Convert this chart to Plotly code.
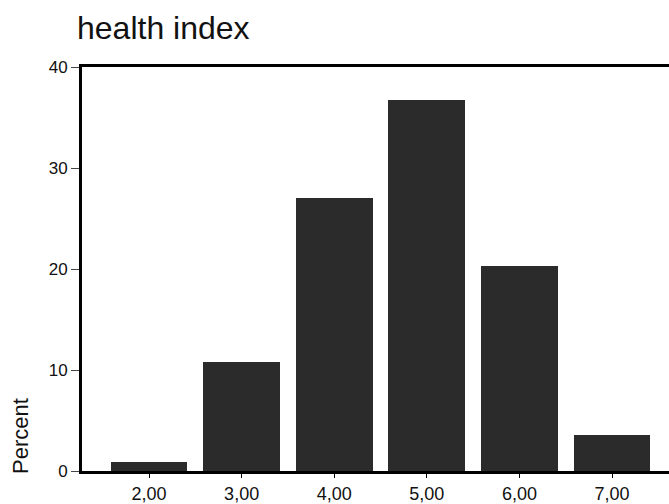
import plotly.graph_objects as go

categories = [2, 3, 4, 5, 6, 7]
tick_labels = ["2,00", "3,00", "4,00", "5,00", "6,00", "7,00"]
percent = [0.9, 10.8, 27.0, 36.7, 20.3, 3.6]

W, H = 669, 504

fig = go.Figure()
fig.add_trace(go.Bar(
    x=categories, y=percent, width=0.83,
    marker=dict(color="#2b2b2b", line=dict(width=0)),
))

fig.update_layout(
    width=W, height=H,
    margin=dict(l=82, r=0, t=67, b=30),
    paper_bgcolor="white", plot_bgcolor="white",
    font=dict(family="Liberation Sans, Arial, sans-serif", color="#111"),
    showlegend=False,
    title=dict(text="health index", x=77/W, xanchor="left", y=1-28/H, yanchor="middle",
               font=dict(size=32, color="#111")),
    bargap=0,
)
fig.update_xaxes(
    range=[1.276, 7.615], tickvals=categories, ticktext=tick_labels,
    showline=True, linecolor="black", linewidth=3, mirror=True,
    ticks="outside", ticklen=4, tickcolor="black", tickfont=dict(size=18),
    showgrid=False, zeroline=False,
)
fig.update_yaxes(
    range=[0, 40], tickvals=[0, 10, 20, 30, 40],
    showline=True, linecolor="black", linewidth=3,
    ticks="outside", ticklen=8, tickcolor="#444", tickfont=dict(size=17),
    showgrid=False, zeroline=False,
)
fig.add_annotation(
    text="Percent", xref="paper", yref="paper", x=0, y=0, xshift=-62, yshift=-5,
    xanchor="center", yanchor="bottom", textangle=-90, showarrow=False,
    font=dict(size=22, color="#111"),
)
post = (
    "var s=document.documentElement.style; s.margin='0'; s.padding='0'; s.overflow='hidden';"
    "var b=document.body.style; b.margin='0'; b.padding='0'; b.overflow='hidden';"
    "var d=document.getElementById('{plot_id}'); d.parentElement.style.height='504px';"
    "d.parentElement.style.overflow='hidden';"
)
fig.write_html("out.html", config={"displayModeBar": False}, post_script=post)
